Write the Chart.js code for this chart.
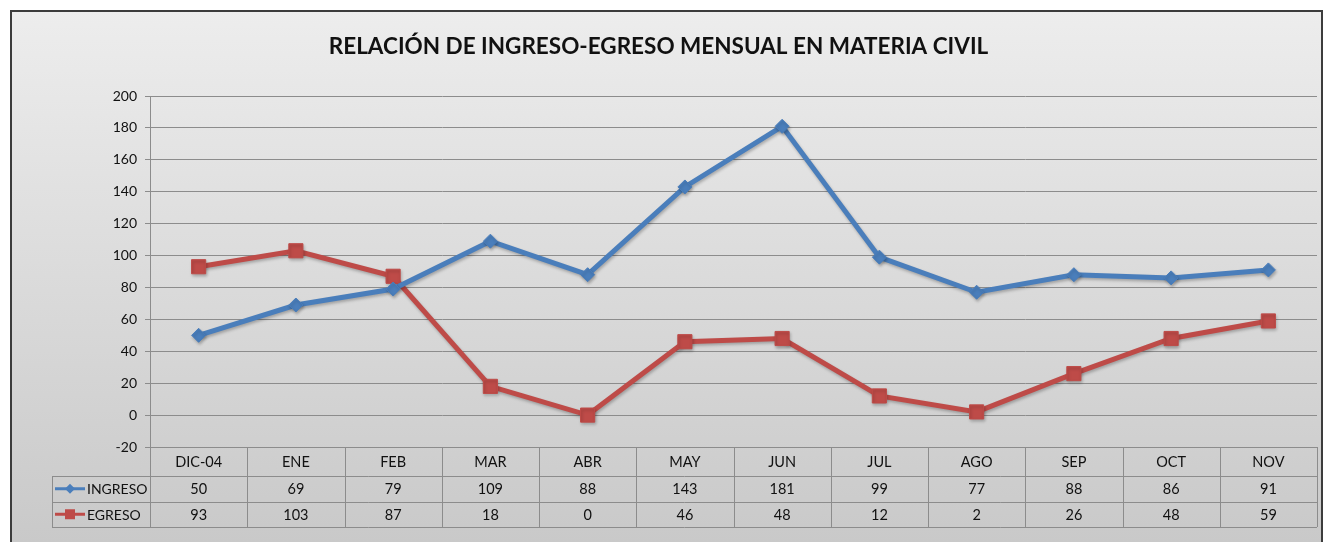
<!DOCTYPE html>
<html>
<head>
<meta charset="utf-8">
<script src="https://cdn.jsdelivr.net/npm/chart.js@4/dist/chart.umd.min.js"></script>
<style>
  html, body { margin: 0; padding: 0; background: #fff; }
  #wrap { width: 1324px; height: 542px; }
</style>
</head>
<body>
<div id="wrap"><canvas id="chart" width="1324" height="542"></canvas></div>
<script>
//Months shown on the x axis / table header
const months = ["DIC-04", "ENE", "FEB", "MAR", "ABR", "MAY", "JUN", "JUL", "AGO", "SEP", "OCT", "NOV"];
//Series values
const ingreso = [50, 69, 79, 109, 88, 143, 181, 99, 77, 88, 86, 91];
const egreso = [93, 103, 87, 18, 0, 46, 48, 12, 2, 26, 48, 59];
//Series names
const seriesNames = ["INGRESO", "EGRESO"];

const FONT = "Lato, 'Open Sans', sans-serif";
const gridColor = "#8c8c8c";

//Background, frame and shadow for the lines
const framePlugin = {
  id: "frame",
  beforeDraw(chart) {
    const ctx = chart.ctx;
    ctx.save();
    ctx.fillStyle = "#ffffff";
    ctx.fillRect(0, 0, chart.width, chart.height);
    const g = ctx.createLinearGradient(0, 10, 0, chart.height);
    g.addColorStop(0, "#ededed");
    g.addColorStop(1, "#c9c9c9");
    ctx.fillStyle = g;
    ctx.fillRect(11, 11, 1311, chart.height);
    ctx.strokeStyle = "#3c3c3c";
    ctx.lineWidth = 2;
    ctx.beginPath();
    ctx.moveTo(11, chart.height + 5);
    ctx.lineTo(11, 11);
    ctx.lineTo(1322, 11);
    ctx.lineTo(1322, chart.height + 5);
    ctx.stroke();
    ctx.restore();
  },
  beforeDatasetsDraw(chart) {
    const ctx = chart.ctx;
    ctx.save();
    ctx.shadowColor = "rgba(0,0,0,0.25)";
    ctx.shadowBlur = 3;
    ctx.shadowOffsetX = 1;
    ctx.shadowOffsetY = 2;
  },
  afterDatasetsDraw(chart) {
    chart.ctx.restore();
  }
};

//Data table under the plot (Excel style)
const tablePlugin = {
  id: "dataTable",
  afterDraw(chart) {
    const ctx = chart.ctx;
    const x = chart.scales.x;
    const area = chart.chartArea;
    const top = area.bottom;
    const headerH = 29;
    const rowH = 25.5;
    const legendLeft = 52;
    const rows = [ingreso, egreso];
    const bottom = top + headerH + rowH * rows.length;

    //column borders from the category scale
    const edges = [area.left];
    for (let i = 1; i < months.length; i++) {
      edges.push((x.getPixelForValue(i - 1) + x.getPixelForValue(i)) / 2);
    }
    edges.push(area.right);

    ctx.save();
    ctx.strokeStyle = gridColor;
    ctx.lineWidth = 1;
    ctx.beginPath();
    edges.forEach((e) => {
      const px = Math.round(e) + 0.5;
      ctx.moveTo(px, top);
      ctx.lineTo(px, bottom);
    });
    //horizontal lines
    for (let r = 0; r <= rows.length; r++) {
      const py = Math.round(top + headerH + r * rowH) + 0.5;
      ctx.moveTo(legendLeft, py);
      ctx.lineTo(area.right, py);
    }
    ctx.moveTo(legendLeft + 0.5, top + headerH);
    ctx.lineTo(legendLeft + 0.5, bottom);
    ctx.stroke();

    ctx.fillStyle = "#111111";
    ctx.font = "14.5px " + FONT;
    ctx.textAlign = "center";
    ctx.textBaseline = "middle";
    months.forEach((m, i) => {
      const cx = x.getPixelForValue(i);
      ctx.fillText(m, cx, top + headerH / 2 + 1);
      rows.forEach((vals, r) => {
        ctx.fillText(String(vals[i]), cx, top + headerH + r * rowH + rowH / 2 + 1);
      });
    });

    //legend keys in the first column
    ctx.font = "14px " + FONT;
    chart.data.datasets.forEach((ds, r) => {
      const cy = top + headerH + r * rowH + rowH / 2;
      ctx.strokeStyle = ds.borderColor;
      ctx.lineWidth = 3;
      ctx.beginPath();
      ctx.moveTo(55, cy);
      ctx.lineTo(85, cy);
      ctx.stroke();
      ctx.fillStyle = ds.borderColor;
      if (ds.pointStyle === "rect") {
        ctx.fillRect(65, cy - 5, 10, 10);
      } else {
        ctx.beginPath();
        ctx.moveTo(70, cy - 5);
        ctx.lineTo(75, cy);
        ctx.lineTo(70, cy + 5);
        ctx.lineTo(65, cy);
        ctx.closePath();
        ctx.fill();
      }
      ctx.fillStyle = "#111111";
      ctx.textAlign = "left";
      ctx.fillText(ds.label, 87, cy + 1);
    });
    ctx.restore();
  }
};

new Chart(document.getElementById("chart"), {
  type: "line",
  plugins: [framePlugin, tablePlugin],
  data: {
    labels: months,
    datasets: [
      {
        label: seriesNames[0],
        data: ingreso,
        borderColor: "#4a7ebb",
        backgroundColor: "#4a7ebb",
        borderWidth: 5,
        pointStyle: "rectRot",
        pointRadius: 7,
        pointHoverRadius: 7,
        pointBorderWidth: 1,
        tension: 0
      },
      {
        label: seriesNames[1],
        data: egreso,
        borderColor: "#be4b48",
        backgroundColor: "#be4b48",
        borderWidth: 5,
        pointStyle: "rect",
        pointRadius: 10,
        pointHoverRadius: 10,
        pointBorderWidth: 1,
        tension: 0
      }
    ]
  },
  options: {
    responsive: false,
    animation: false,
    layout: { autoPadding: false, padding: { left: 0, right: 7, top: 0, bottom: 95 } },
    plugins: {
      legend: { display: false },
      tooltip: { enabled: false },
      title: {
        display: true,
        text: "RELACIÓN DE INGRESO-EGRESO MENSUAL EN MATERIA CIVIL",
        color: "#111111",
        font: { family: FONT, size: 22.5, weight: "bold", lineHeight: 1.2 },
        padding: { top: 33, bottom: 36 }
      }
    },
    scales: {
      x: {
        type: "category",
        offset: true,
        display: false,
        afterFit: (s) => { s.paddingLeft = 0; s.paddingRight = 0; }
      },
      y: {
        min: -20,
        max: 200,
        afterFit: (s) => { s.width = 150; },
        ticks: {
          stepSize: 20,
          color: "#111111",
          padding: 8,
          font: { family: FONT, size: 14 }
        },
        grid: {
          color: gridColor,
          tickColor: gridColor,
          tickLength: 5,
          lineWidth: 1
        },
        border: { color: gridColor, width: 1 }
      }
    }
  }
});
</script>
</body>
</html>
